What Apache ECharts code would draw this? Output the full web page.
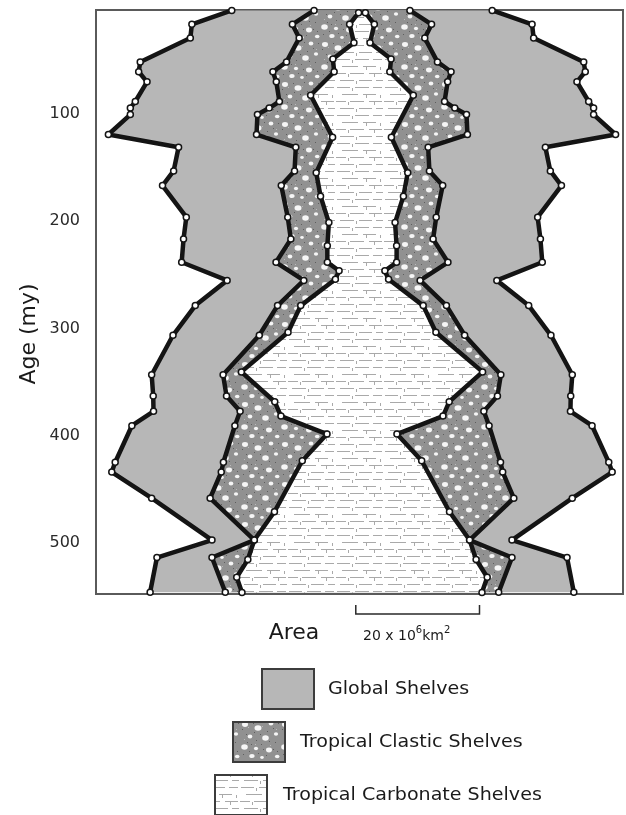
<!DOCTYPE html>
<html>
<head>
<meta charset="utf-8">
<script src="https://cdn.jsdelivr.net/npm/echarts@6/dist/echarts.min.js"></script>
<style>
  html, body { margin: 0; padding: 0; background: #fff; }
  #chart { width: 626px; height: 815px; }
</style>
</head>
<body>
<div id="chart"></div>
<script>
// Time slices (my) shared by the global and tropical shelf outlines
const shelfAge = [3.4, 16.4, 29.1, 51.4, 60.6, 70, 88.3, 94.4, 100.5, 119.1, 131, 153.1, 166.7,
  196.2, 216.6, 238.2, 255.1, 278.6, 306.3, 343.1, 362.9, 377.2, 390.6, 424.7, 433.8, 458.2,
  497.2, 513.5, 545.9];
// Shelf areas (10^6 km^2)
const globalArea = [42.1, 55.0, 55.5, 71.7, 72.2, 69.5, 73.3, 74.9, 74.9, 82.0, 59.3, 60.9, 64.5,
  56.8, 57.7, 58.3, 43.6, 53.9, 61.1, 68.0, 67.5, 67.4, 74.4, 79.8, 80.9, 68.0,
  48.5, 66.3, 68.5];
const tropicalArea = [15.5, 22.5, 20.3, 24.4, 28.8, 27.7, 26.7, 30.0, 33.8, 34.1, 21.4, 21.8, 26.1,
  24.0, 23.0, 27.8, 18.8, 27.3, 33.2, 44.9, 43.8, 39.4, 41.1, 44.8, 45.5, 49.1,
  34.8, 48.5, 44.2];
// Carbonate shelves have their own time slices
const carbonateAge = [5.5, 16.4, 33.5, 48.7, 60.6, 82.5, 121.7, 154.7, 176.6, 201.2, 222.9, 238.3,
  246.1, 254.1, 278.6, 303.5, 340.4, 368.3, 381.6, 398.4, 423.3, 470.8, 497.2, 515.4, 531.9, 546];
const carbonateArea = [1.1, 4.0, 2.6, 9.4, 9.0, 16.6, 9.5, 14.8, 13.4, 10.7, 11.2, 11.2,
  7.4, 8.6, 19.8, 23.9, 39.0, 28.2, 26.2, 11.3, 19.3, 28.3, 34.8, 36.9, 40.5, 38.8];

const ageTicks = [100, 200, 300, 400, 500];
const legendNames = ['Global Shelves', 'Tropical Clastic Shelves', 'Tropical Carbonate Shelves'];
const scaleBarStart = -1;
const scaleBarLength = 20;

const FAMILY = '"DejaVu Sans", "Noto Sans", sans-serif';
const INK = '#141414';

// ---- fill patterns ----
function clasticTile() {
  const c = document.createElement('canvas');
  c.width = 40; c.height = 40;
  const g = c.getContext('2d');
  g.fillStyle = '#919191';
  g.fillRect(0, 0, 40, 40);
  const specks = [[2,9],[7,22],[13,3],[14,12],[21,24],[24,2],[27,11],[33,8],[35,22],[3,34],
    [9,31],[18,33],[26,35],[33,29],[38,3],[11,24],[29,21],[20,14],[6,14],[37,31],[23,29],[16,20]];
  g.fillStyle = '#5e5e5e';
  specks.forEach(([x, y]) => g.fillRect(x, y, 1, 1));
  g.fillStyle = '#bababa';
  [[4,19],[15,24],[30,25],[36,9],[8,7],[22,6]].forEach(([x, y]) => g.fillRect(x, y, 1, 1));
  const blobs = [[5,4.5,3,2.4],[18,8,3.5,2.8],[31,3.5,2.3,1.9],[10,16.5,2.3,1.9],[25.5,18,3.3,2.7],
    [36,14,2.1,1.7],[4.5,27,3.3,2.7],[16,28.5,2.1,1.7],[29,30,3,2.4],[37.2,36.5,2.3,1.8],
    [12,36,2.7,2.1],[22,37.5,1.8,1.4]];
  g.fillStyle = '#f6f6f6';
  blobs.forEach(([x, y, rx, ry]) => {
    g.beginPath();
    g.ellipse(x, y, rx, ry, 0, 0, Math.PI * 2);
    g.fill();
  });
  return c;
}

function carbonateTile() {
  const c = document.createElement('canvas');
  c.width = 48; c.height = 28;
  const g = c.getContext('2d');
  g.fillStyle = '#ffffff';
  g.fillRect(0, 0, 48, 28);
  g.strokeStyle = '#a9a9a9';
  g.lineWidth = 1;
  const dashes = [[1,14,3],[19,33,3],[37,46,3],[6,22,10],[27,40,10],
    [0,10,17],[14,28,17],[33,46,17],[4,18,24],[23,36,24],[40,47,24]];
  g.beginPath();
  dashes.forEach(([x1, x2, y]) => { g.moveTo(x1, y + 0.5); g.lineTo(x2, y + 0.5); });
  const ticks = [[16,4],[30,11],[12,18],[38,18],[20,25],[44,11]];
  ticks.forEach(([x, y]) => { g.moveTo(x + 0.5, y); g.lineTo(x + 0.5, y + 3); });
  g.stroke();
  return c;
}

const globalFill = '#b7b7b7';
const clasticFill = { image: clasticTile(), repeat: 'repeat' };
const carbonateFill = { image: carbonateTile(), repeat: 'repeat' };

// ---- series builders ----
function shelfPolygon(name, ages, areas, fill, z) {
  return {
    name: name,
    type: 'custom',
    coordinateSystem: 'cartesian2d',
    silent: true,
    z: z,
    data: ages.map((a, i) => [areas[i] / 2, a]),
    renderItem: function (params, api) {
      if (params.dataIndex !== 0) return null;
      const left = [], right = [];
      for (let i = 0; i < ages.length; i++) {
        left.push(api.coord([-areas[i] / 2, ages[i]]));
        right.push(api.coord([areas[i] / 2, ages[i]]));
      }
      return {
        type: 'polygon',
        shape: { points: left.concat(right.reverse()) },
        style: { fill: fill, stroke: null }
      };
    }
  };
}

function shelfEdge(ages, areas, side) {
  return {
    type: 'line',
    silent: true,
    z: 10,
    data: ages.map((a, i) => [side * areas[i] / 2, a]),
    symbol: 'circle',
    symbolSize: 6,
    showSymbol: true,
    lineStyle: { color: INK, width: 4.5, join: 'round', cap: 'round' },
    itemStyle: { color: '#ffffff', borderColor: INK, borderWidth: 1.5 }
  };
}

const chart = echarts.init(document.getElementById('chart'), null, { renderer: 'canvas' });

chart.setOption({
  animation: false,
  backgroundColor: '#ffffff',
  grid: {
    left: 96, right: 3, top: 10, bottom: 221,
    show: true, borderColor: '#5a5a5a', borderWidth: 2, backgroundColor: 'transparent'
  },
  xAxis: {
    type: 'value',
    min: -43.0, max: 42.2,
    axisLine: { show: false }, axisTick: { show: false },
    axisLabel: { show: false }, splitLine: { show: false }
  },
  yAxis: {
    type: 'value',
    inverse: true,
    min: 3, max: 547.5,
    axisLine: { show: false },
    splitLine: { show: false },
    axisTick: {
      show: true, length: 10, inside: false,
      customValues: ageTicks,
      lineStyle: { color: '#4a4a4a', width: 2 }
    },
    axisLabel: {
      customValues: ageTicks,
      margin: 16,
      color: '#2a2a2a',
      fontSize: 16,
      fontFamily: FAMILY
    }
  },
  series: [
    shelfPolygon(legendNames[0], shelfAge, globalArea, globalFill, 1),
    shelfPolygon(legendNames[1], shelfAge, tropicalArea, clasticFill, 2),
    shelfPolygon(legendNames[2], carbonateAge, carbonateArea, carbonateFill, 3),
    shelfEdge(shelfAge, globalArea, -1),
    shelfEdge(shelfAge, globalArea, 1),
    shelfEdge(shelfAge, tropicalArea, -1),
    shelfEdge(shelfAge, tropicalArea, 1),
    shelfEdge(carbonateAge, carbonateArea, -1),
    shelfEdge(carbonateAge, carbonateArea, 1)
  ]
});

// ---- annotations: axis title, scale bar, legend ----
const barX0 = chart.convertToPixel({ xAxisIndex: 0 }, scaleBarStart);
const barX1 = chart.convertToPixel({ xAxisIndex: 0 }, scaleBarStart + scaleBarLength);

function legendItem(y, boxX, textX, fill, name) {
  return {
    type: 'group',
    children: [
      {
        type: 'rect',
        shape: { x: boxX, y: y - 20, width: 52, height: 40 },
        style: { fill: fill, stroke: '#3c3c3c', lineWidth: 2 }
      },
      {
        type: 'text',
        x: textX, y: y,
        scaleX: 1.06,
        style: {
          text: name, fontSize: 18, fontFamily: FAMILY, fill: '#1a1a1a',
          textAlign: 'left', textVerticalAlign: 'middle'
        }
      }
    ]
  };
}

chart.setOption({
  graphic: [
    {
      type: 'text',
      x: 29, y: 334,
      rotation: Math.PI / 2,
      style: { text: 'Age (my)', fontSize: 22, fontFamily: FAMILY, fill: '#1a1a1a', textAlign: 'center', textVerticalAlign: 'middle' }
    },
    {
      type: 'text',
      x: 294, y: 633,
      style: { text: 'Area', fontSize: 22, fontFamily: FAMILY, fill: '#1a1a1a', textAlign: 'center', textVerticalAlign: 'middle' }
    },
    {
      type: 'polyline',
      shape: { points: [[barX0, 605], [barX0, 614], [barX1, 614], [barX1, 605]] },
      style: { stroke: '#2a2a2a', lineWidth: 1.5, fill: null }
    },
    {
      type: 'text',
      x: 363, y: 634,
      style: {
        text: '{b|20 x 10}{s|6}{b|km}{s|2}',
        textAlign: 'left', textVerticalAlign: 'middle',
        fill: '#1a1a1a',
        rich: {
          b: { fontSize: 14, fontFamily: FAMILY, fill: '#1a1a1a', lineHeight: 18, verticalAlign: 'bottom' },
          s: { fontSize: 10, fontFamily: FAMILY, fill: '#1a1a1a', lineHeight: 11, verticalAlign: 'top' }
        }
      }
    },
    legendItem(689, 262, 328, globalFill, legendNames[0]),
    legendItem(742, 233, 300, clasticFill, legendNames[1]),
    legendItem(795, 215, 283, carbonateFill, legendNames[2])
  ]
});
</script>
</body>
</html>
